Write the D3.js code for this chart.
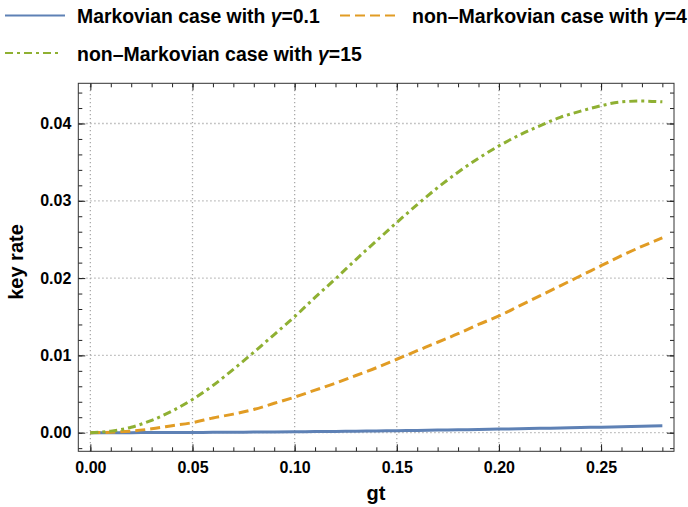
<!DOCTYPE html>
<html>
<head>
<meta charset="utf-8">
<script src="https://cdn.jsdelivr.net/npm/d3@7"></script>
<style>
  body { margin: 0; background: #fff; }
  svg text { font-family: "Liberation Sans", Arial, sans-serif; font-weight: bold; fill: #000; }
</style>
</head>
<body>
<svg id="chart" width="688" height="507"></svg>
<script>
// ----------
// data
var gtValues = [0.00, 0.01, 0.02, 0.03, 0.04, 0.05, 0.06, 0.07, 0.08, 0.09,
                0.10, 0.11, 0.12, 0.13, 0.14, 0.15, 0.16, 0.17, 0.18, 0.19,
                0.20, 0.21, 0.22, 0.23, 0.24, 0.25, 0.26, 0.27, 0.28];

var markovRate = [0, 0.000001, 0.000005, 0.00001, 0.000018, 0.000029, 0.000041, 0.000056, 0.000073, 0.000093,
                  0.000115, 0.000139, 0.000165, 0.000194, 0.000225, 0.000258, 0.000294, 0.000332, 0.000372, 0.000414,
                  0.000459, 0.000506, 0.000556, 0.000607, 0.000661, 0.000717, 0.000776, 0.000837, 0.0009];

var nonMarkov4Rate = [0, 0.00005, 0.0002, 0.0005, 0.0009, 0.0013, 0.0019, 0.0024, 0.0030, 0.0038,
                      0.0046, 0.0055, 0.0064, 0.0074, 0.0084, 0.0095, 0.0106, 0.0117, 0.0128, 0.0140,
                      0.0151, 0.0164, 0.0177, 0.0190, 0.0203, 0.0216, 0.0229, 0.0241, 0.0252];

var nonMarkov15Rate = [0, 0.0002, 0.0007, 0.0016, 0.0028, 0.0043, 0.0061, 0.0082, 0.0104, 0.0127,
                       0.0150, 0.0175, 0.0199, 0.0224, 0.0248, 0.0272, 0.0295, 0.0317, 0.0337, 0.0355,
                       0.0371, 0.0385, 0.0397, 0.0408, 0.0416, 0.0423, 0.0428, 0.0429, 0.0428];

var xTickValues = [0, 0.05, 0.10, 0.15, 0.20, 0.25];
var xTickLabels = ['0.00', '0.05', '0.10', '0.15', '0.20', '0.25'];
var yTickValues = [0, 0.01, 0.02, 0.03, 0.04];
var yTickLabels = ['0.00', '0.01', '0.02', '0.03', '0.04'];

var seriesNames = ['Markovian case with ', 'non\u2013Markovian case with ', 'non\u2013Markovian case with '];
var seriesGammas = ['0.1', '4', '15'];

// ----------
var svg = d3.select('#chart');
var frame = { left: 78.3, top: 83.3, right: 674, bottom: 451.3 };

var x = d3.scaleLinear()
  .domain([-0.0059, 0.2857])
  .range([frame.left, frame.right]);

var y = d3.scaleLinear()
  .domain([-0.00241, 0.0452])
  .range([frame.bottom, frame.top]);

var styles = [
  { color: '#5E81B5', dash: null, width: 3 },
  { color: '#E19C24', dash: '10,5', width: 3 },
  { color: '#8FB032', dash: '8,4,3,4', width: 3 }
];

// ----------
// grid
var grid = svg.append('g')
  .attr('stroke', '#aaa')
  .attr('stroke-width', 1.3)
  .attr('stroke-dasharray', '1.3,2.7');

grid.selectAll('line.gx')
  .data(xTickValues)
  .enter().append('line')
  .attr('x1', function(d) { return x(d); })
  .attr('x2', function(d) { return x(d); })
  .attr('y1', frame.bottom)
  .attr('y2', frame.top);

grid.selectAll('line.gy')
  .data(yTickValues)
  .enter().append('line')
  .attr('x1', frame.left)
  .attr('x2', frame.right)
  .attr('y1', function(d) { return y(d); })
  .attr('y2', function(d) { return y(d); });

// ----------
// axes, ticks pointing inward
var xMinor = d3.range(0, 0.2801, 0.01);
var yMinor = d3.range(-0.002, 0.0451, 0.002);

function addAxis(axis, transform, ticks, size, labels) {
  axis.tickValues(ticks).tickSizeInner(-size).tickSizeOuter(0);
  if (labels) {
    axis.tickFormat(function(d, i) { return labels[i]; });
  } else {
    axis.tickFormat('');
  }
  var g = svg.append('g').attr('transform', transform).call(axis);
  g.select('.domain').remove();
  g.selectAll('line').attr('stroke', '#222').attr('stroke-width', 1);
  g.selectAll('text').style('font-size', '16px').attr('fill', '#000');
  return g;
}

addAxis(d3.axisBottom(x).tickPadding(10), 'translate(0,' + frame.bottom + ')', xTickValues, 7, xTickLabels);
addAxis(d3.axisBottom(x), 'translate(0,' + frame.bottom + ')', xMinor, 4);
addAxis(d3.axisTop(x), 'translate(0,' + frame.top + ')', xTickValues, 7);
addAxis(d3.axisTop(x), 'translate(0,' + frame.top + ')', xMinor, 4);

addAxis(d3.axisLeft(y).tickPadding(7), 'translate(' + frame.left + ',0)', yTickValues, 7, yTickLabels);
addAxis(d3.axisLeft(y), 'translate(' + frame.left + ',0)', yMinor, 4);
addAxis(d3.axisRight(y), 'translate(' + frame.right + ',0)', yTickValues, 7);
addAxis(d3.axisRight(y), 'translate(' + frame.right + ',0)', yMinor, 4);

svg.append('rect')
  .attr('x', frame.left)
  .attr('y', frame.top)
  .attr('width', frame.right - frame.left)
  .attr('height', frame.bottom - frame.top)
  .attr('fill', 'none')
  .attr('stroke', '#333')
  .attr('stroke-width', 1);

// ----------
// curves
var series = [markovRate, nonMarkov4Rate, nonMarkov15Rate];

var line = d3.line()
  .x(function(d, i) { return x(gtValues[i]); })
  .y(function(d) { return y(d); })
  .curve(d3.curveMonotoneX);

svg.selectAll('path.series')
  .data(series)
  .enter().append('path')
  .attr('class', 'series')
  .attr('fill', 'none')
  .attr('stroke', function(d, i) { return styles[i].color; })
  .attr('stroke-width', function(d, i) { return styles[i].width; })
  .attr('stroke-dasharray', function(d, i) { return styles[i].dash; })
  .attr('d', line);

// ----------
// axis titles
svg.append('text')
  .attr('x', 376)
  .attr('y', 500)
  .attr('text-anchor', 'middle')
  .style('font-size', '20px')
  .text('gt');

svg.append('text')
  .attr('transform', 'translate(23,262) rotate(-90)')
  .attr('text-anchor', 'middle')
  .style('font-size', '20px')
  .text('key rate');

// ----------
// legend (text is narrower than the font, so squeeze it to the measured width)
var legendPos = [
  { x: 5, y: 15.5, len: 60, tx: 77, w: 243 },
  { x: 340, y: 15.5, len: 56, tx: 412, w: 275 },
  { x: 5, y: 53, len: 55, tx: 77, w: 285 }
];

legendPos.forEach(function(p, i) {
  svg.append('line')
    .attr('x1', p.x)
    .attr('x2', p.x + p.len)
    .attr('y1', p.y)
    .attr('y2', p.y)
    .attr('stroke', styles[i].color)
    .attr('stroke-width', 2)
    .attr('stroke-dasharray', styles[i].dash);

  var t = svg.append('text')
    .style('font-size', '21px');
  t.append('tspan').text(seriesNames[i]);
  t.append('tspan').style('font-style', 'italic').text('\u03b3');
  t.append('tspan').text('=' + seriesGammas[i]);

  var len = t.node().getComputedTextLength();
  t.attr('transform', 'translate(' + p.tx + ',' + (p.y + 7.5) + ') scale(' + (p.w / len) + ',1)');
});
</script>
</body>
</html>
